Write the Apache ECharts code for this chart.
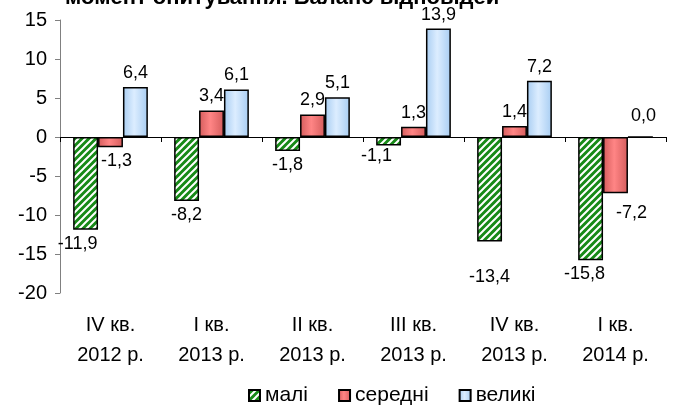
<!DOCTYPE html>
<html>
<head>
<meta charset="utf-8">
<script src="https://cdn.jsdelivr.net/npm/echarts@6/dist/echarts.min.js"></script>
<style>
  html, body { margin: 0; padding: 0; background: #fff; }
  #chart { width: 673px; height: 414px; }
</style>
</head>
<body>
<div id="chart"></div>
<script>
// дані
var quarters = ['IV кв.\n2012 р.', 'I кв.\n2013 р.', 'II кв.\n2013 р.', 'III кв.\n2013 р.', 'IV кв.\n2013 р.', 'I кв.\n2014 р.'];
var small = [-11.9, -8.2, -1.8, -1.1, -13.4, -15.8];
var medium = [-1.3, 3.4, 2.9, 1.3, 1.4, -7.2];
var large = [6.4, 6.1, 5.1, 13.9, 7.2, 0.0];
var yTicks = [-20, -15, -10, -5, 0, 5, 10, 15];

// зсуви підписів, як в Excel (серія -> індекс -> [dx, dy])
var labelShift = {
  small: { 0: [-8, 0], 3: [-12, -4], 4: [0, 22], 5: [-6, 0] },
  medium: { 0: [6, 0], 5: [16, 6] },
  large: { 5: [3, -6] }
};

// штрихування для "малі"
function hatch() {
  var c = document.createElement('canvas');
  c.width = 7; c.height = 7;
  var ctx = c.getContext('2d');
  ctx.fillStyle = '#178a17';
  ctx.fillRect(0, 0, 7, 7);
  ctx.strokeStyle = '#ffffff';
  ctx.lineWidth = 2;
  ctx.beginPath();
  ctx.moveTo(-1, 8); ctx.lineTo(8, -1);
  ctx.moveTo(-5, 5); ctx.lineTo(5, -5);
  ctx.moveTo(2, 12); ctx.lineTo(12, 2);
  ctx.stroke();
  return c;
}

function grad(edge, mid) {
  return new echarts.graphic.LinearGradient(0, 0, 1, 0, [
    { offset: 0, color: edge },
    { offset: 0.45, color: mid },
    { offset: 1, color: edge }
  ]);
}

function fmt(p) {
  return p.value.toFixed(1).replace('.', ',');
}

function withLabels(arr, shift) {
  shift = shift || {};
  return arr.map(function (v, i) {
    var lab = { position: v < 0 ? 'bottom' : 'top' };
    if (shift[i]) lab.offset = shift[i];
    return { value: v, label: lab };
  });
}

var font = 'Liberation Sans, Arial, sans-serif';
var myChart = echarts.init(document.getElementById('chart'));

var baseLabel = {
  show: true,
  formatter: fmt,
  color: '#000',
  fontSize: 18,
  fontFamily: font,
  distance: 5
};

var option = {
  animation: false,
  textStyle: { fontFamily: font },
  graphic: [{
    type: 'text',
    left: 65,
    top: -13,
    style: {
      text: 'момент опитування. Баланс відповідей',
      font: 'bold 22px ' + font,
      fill: '#000'
    }
  }],
  legend: {
    bottom: 3,
    left: 243,
    itemWidth: 11,
    itemHeight: 11,
    itemGap: 30,
    icon: 'rect',
    textStyle: { fontSize: 21, color: '#000', fontFamily: font },
    data: ['малі', 'середні', 'великі']
  },
  grid: { left: 60, right: 7, top: 20, bottom: 121 },
  xAxis: [{
    type: 'category',
    data: quarters,
    axisLine: { onZero: true, lineStyle: { color: '#000', width: 1 } },
    axisTick: { show: true, length: 5, inside: false, lineStyle: { color: '#000' } },
    axisLabel: { show: false }
  }, {
    type: 'category',
    data: quarters,
    position: 'bottom',
    axisLine: { show: false },
    axisTick: { show: false },
    axisLabel: {
      color: '#000',
      fontSize: 20,
      fontFamily: font,
      lineHeight: 30,
      margin: 17
    }
  }],
  yAxis: {
    type: 'value',
    min: yTicks[0],
    max: yTicks[yTicks.length - 1],
    interval: 5,
    splitLine: { show: false },
    axisLine: { show: true, lineStyle: { color: '#808080' } },
    axisTick: { show: true, length: 5, lineStyle: { color: '#808080' } },
    axisLabel: { color: '#000', fontSize: 20, fontFamily: font, margin: 13 }
  },
  series: [{
    name: 'малі',
    type: 'bar',
    data: withLabels(small, labelShift.small),
    barGap: '0%',
    barCategoryGap: '26%',
    itemStyle: { color: { image: hatch(), repeat: 'repeat' }, borderColor: '#000', borderWidth: 1.5 },
    label: baseLabel
  }, {
    name: 'середні',
    type: 'bar',
    data: withLabels(medium, labelShift.medium),
    barGap: '0%',
    barCategoryGap: '26%',
    itemStyle: { color: grad('#d45c5c', '#ff8585'), borderColor: '#000', borderWidth: 1.5 },
    label: baseLabel
  }, {
    name: 'великі',
    type: 'bar',
    data: withLabels(large, labelShift.large),
    barGap: '0%',
    barCategoryGap: '26%',
    itemStyle: { color: grad('#a8cdf2', '#dcedff'), borderColor: '#000', borderWidth: 1.5 },
    label: baseLabel
  }]
};

myChart.setOption(option);
</script>
</body>
</html>
